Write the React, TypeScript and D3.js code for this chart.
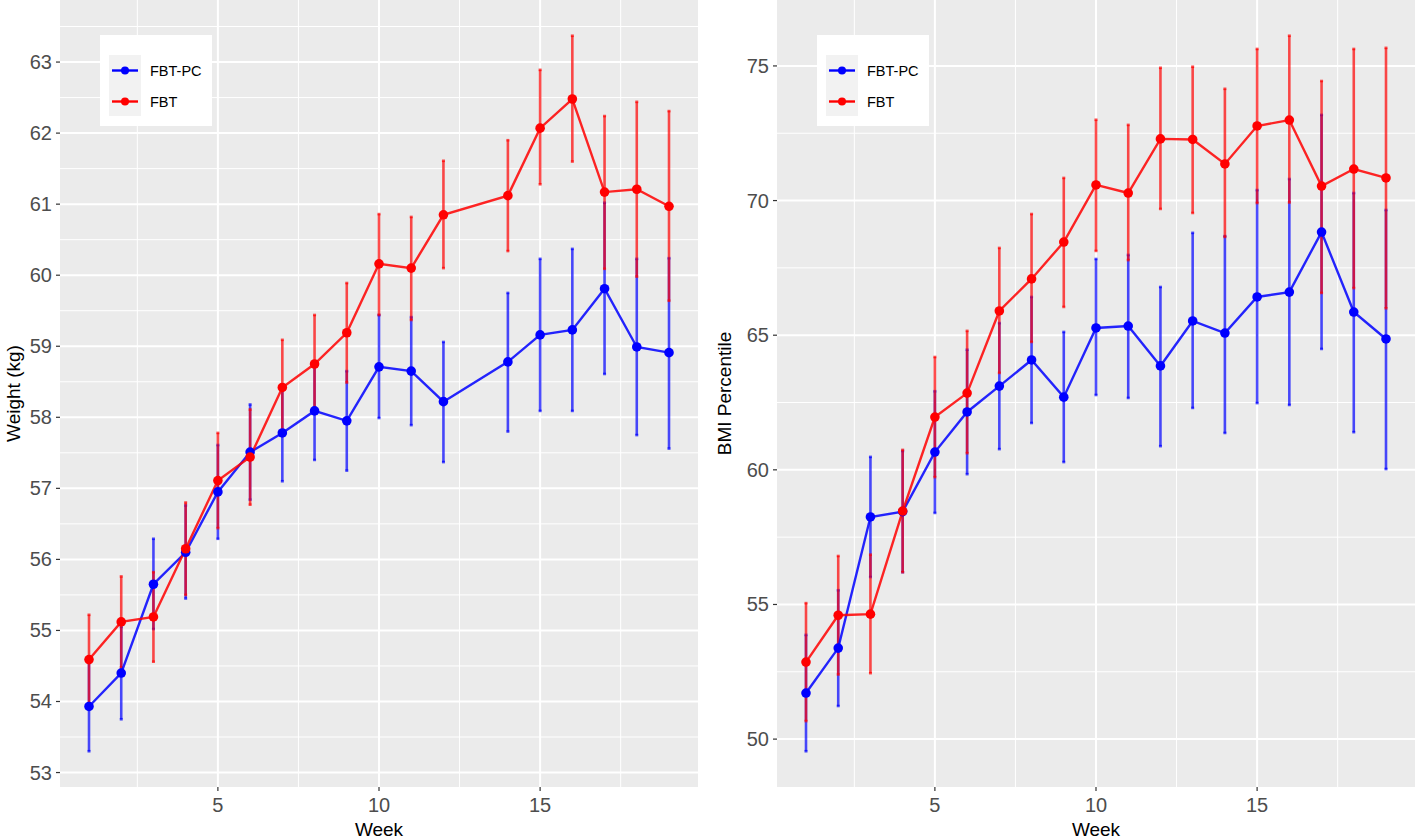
import React from "react";
import * as d3 from "d3";

// ---------- Data: Weight (kg) panel ----------
const weeksWeight = [1, 2, 3, 4, 5, 6, 7, 8, 9, 10, 11, 12, 14, 15, 16, 17, 18, 19];
const weightPcMean = [53.93, 54.40, 55.65, 56.10, 56.95, 57.51, 57.78, 58.09, 57.95, 58.71, 58.65, 58.22, 58.78, 59.16, 59.23, 59.81, 58.99, 58.91];
const weightPcLow = [53.30, 53.75, 55.02, 55.45, 56.29, 56.84, 57.10, 57.40, 57.25, 57.99, 57.89, 57.37, 57.80, 58.09, 58.09, 58.61, 57.75, 57.56];
const weightPcHigh = [54.56, 55.05, 56.29, 56.76, 57.61, 58.18, 58.46, 58.78, 58.65, 59.44, 59.41, 59.06, 59.75, 60.23, 60.37, 61.02, 60.23, 60.24];
const weightFbtMean = [54.59, 55.12, 55.19, 56.15, 57.11, 57.44, 58.42, 58.75, 59.19, 60.16, 60.10, 60.85, 61.12, 62.07, 62.48, 61.17, 61.21, 60.97];
const weightFbtLow = [53.96, 54.48, 54.56, 55.50, 56.44, 56.77, 57.75, 58.06, 58.49, 59.44, 59.37, 60.10, 60.34, 61.28, 61.60, 60.09, 59.98, 59.64];
const weightFbtHigh = [55.22, 55.76, 55.82, 56.80, 57.78, 58.11, 59.09, 59.44, 59.89, 60.86, 60.82, 61.61, 61.90, 62.89, 63.37, 62.24, 62.44, 62.31];

// ---------- Data: BMI Percentile panel ----------
const weeksBmi = [1, 2, 3, 4, 5, 6, 7, 8, 9, 10, 11, 12, 13, 14, 15, 16, 17, 18, 19];
const bmiPcMean = [51.71, 53.38, 58.25, 58.45, 60.66, 62.15, 63.11, 64.08, 62.70, 65.27, 65.34, 63.86, 65.53, 65.08, 66.42, 66.60, 68.83, 65.86, 64.86];
const bmiPcLow = [49.55, 51.23, 56.02, 56.20, 58.40, 59.84, 60.77, 61.74, 60.29, 62.78, 62.67, 60.88, 62.30, 61.37, 62.48, 62.41, 64.49, 61.40, 60.03];
const bmiPcHigh = [53.87, 55.53, 60.48, 60.70, 62.92, 64.46, 65.45, 66.42, 65.12, 67.83, 67.98, 66.79, 68.80, 68.68, 70.39, 70.80, 73.18, 70.28, 69.65];
const bmiFbtMean = [52.86, 54.60, 54.64, 58.47, 61.96, 62.85, 65.90, 67.09, 68.46, 70.58, 70.28, 72.29, 72.27, 71.36, 72.77, 72.99, 70.54, 71.17, 70.84];
const bmiFbtLow = [50.67, 52.40, 52.45, 56.20, 59.73, 60.62, 63.60, 64.75, 66.05, 68.13, 67.79, 69.69, 69.54, 68.65, 69.91, 69.93, 66.57, 66.75, 66.00];
const bmiFbtHigh = [55.05, 56.80, 56.85, 60.74, 64.19, 65.16, 68.24, 69.50, 70.84, 73.00, 72.81, 74.93, 74.97, 74.15, 75.63, 76.12, 74.44, 75.63, 75.67];

// ---------- Tick labels ----------
const weekTicks = [5, 10, 15];
const weekMinor = [2.5, 7.5, 12.5, 17.5];
const weightTicks = [53, 54, 55, 56, 57, 58, 59, 60, 61, 62, 63];
const bmiTicks = [50, 55, 60, 65, 70, 75];
const seriesNames = ["FBT-PC", "FBT"];
const seriesColors = ["#0000FF", "#FF0000"];

const W = 1418;
const H = 839;
const FONT = "'Liberation Sans', Arial, Helvetica, sans-serif";

type Series = { weeks: number[]; mean: number[]; low: number[]; high: number[]; color: string };

function Panel(props: {
  left: number;
  right: number;
  top: number;
  bottom: number;
  series: Series[];
  yTicks: number[];
  yTitle: string;
  yTitleX: number;
}) {
  const { left, right, top, bottom, series, yTicks, yTitle, yTitleX } = props;
  const allWeeks = series.flatMap((s) => s.weeks);
  const wMin = d3.min(allWeeks)!;
  const wMax = d3.max(allWeeks)!;
  const wPad = (wMax - wMin) * 0.05;
  const x = d3.scaleLinear().domain([wMin - wPad, wMax + wPad]).range([left, right]);

  const lo = d3.min(series.flatMap((s) => s.low))!;
  const hi = d3.max(series.flatMap((s) => s.high))!;
  const yPad = (hi - lo) * 0.05;
  const y = d3.scaleLinear().domain([lo - yPad, hi + yPad]).range([bottom, top]);
  const [d0, d1] = y.domain();
  const step = yTicks[1] - yTicks[0];
  const yMinor: number[] = [];
  for (let v = yTicks[0] - step / 2; v <= d1; v += step) {
    if (v >= d0) yMinor.push(v);
  }
  const xMinorIn = weekMinor.filter((v) => v >= x.domain()[0] && v <= x.domain()[1]);

  const line = d3
    .line<[number, number]>()
    .x((d) => x(d[0]))
    .y((d) => y(d[1]));

  const legendX = left + 40;
  const legendY = 35;

  return (
    <g>
      <rect x={left} y={top} width={right - left} height={bottom - top} fill="#EBEBEB" />
      {yMinor.map((v) => (
        <line key={"ym" + v} x1={left} x2={right} y1={y(v)} y2={y(v)} stroke="#FFFFFF" strokeWidth={1} />
      ))}
      {xMinorIn.map((v) => (
        <line key={"xm" + v} x1={x(v)} x2={x(v)} y1={top} y2={bottom} stroke="#FFFFFF" strokeWidth={1} />
      ))}
      {yTicks.map((v) => (
        <line key={"yM" + v} x1={left} x2={right} y1={y(v)} y2={y(v)} stroke="#FFFFFF" strokeWidth={2} />
      ))}
      {weekTicks.map((v) => (
        <line key={"xM" + v} x1={x(v)} x2={x(v)} y1={top} y2={bottom} stroke="#FFFFFF" strokeWidth={2} />
      ))}

      {/* error bars */}
      {series.map((s, si) => (
        <g key={"eb" + si} stroke={s.color} strokeOpacity={0.7} strokeWidth={2.6}>
          {s.weeks.map((wk, i) => (
            <g key={i}>
              <line x1={x(wk)} x2={x(wk)} y1={y(s.low[i])} y2={y(s.high[i])} />
              <line x1={x(wk) - 1.5} x2={x(wk) + 1.5} y1={y(s.low[i])} y2={y(s.low[i])} />
              <line x1={x(wk) - 1.5} x2={x(wk) + 1.5} y1={y(s.high[i])} y2={y(s.high[i])} />
            </g>
          ))}
        </g>
      ))}
      {/* lines */}
      {series.map((s, si) => (
        <path
          key={"ln" + si}
          d={line(s.weeks.map((wk, i) => [wk, s.mean[i]] as [number, number])) || ""}
          fill="none"
          stroke={s.color}
          strokeOpacity={0.85}
          strokeWidth={2.4}
        />
      ))}
      {/* points */}
      {series.map((s, si) => (
        <g key={"pt" + si} fill={s.color}>
          {s.weeks.map((wk, i) => (
            <circle key={i} cx={x(wk)} cy={y(s.mean[i])} r={4.8} />
          ))}
        </g>
      ))}

      {/* y axis */}
      {yTicks.map((v) => (
        <g key={"yt" + v}>
          <line x1={left - 4} x2={left} y1={y(v)} y2={y(v)} stroke="#333333" strokeWidth={1.2} />
          <text
            x={left - 8}
            y={y(v)}
            dy="0.35em"
            textAnchor="end"
            fontSize={20}
            fill="#4D4D4D"
            fontFamily={FONT}
          >
            {v}
          </text>
        </g>
      ))}
      {/* x axis */}
      {weekTicks.map((v) => (
        <g key={"xt" + v}>
          <line x1={x(v)} x2={x(v)} y1={bottom} y2={bottom + 4} stroke="#333333" strokeWidth={1.2} />
          <text x={x(v)} y={bottom + 25} textAnchor="middle" fontSize={20} fill="#4D4D4D" fontFamily={FONT}>
            {v}
          </text>
        </g>
      ))}
      <text
        x={(left + right) / 2}
        y={836}
        textAnchor="middle"
        fontSize={19}
        fill="#000000"
        fontFamily={FONT}
      >
        Week
      </text>
      <text
        transform={`translate(${yTitleX},${(top + bottom) / 2}) rotate(-90)`}
        textAnchor="middle"
        fontSize={19}
        fill="#000000"
        fontFamily={FONT}
      >
        {yTitle}
      </text>

      {/* legend */}
      <rect x={legendX} y={legendY} width={112} height={91} fill="#FFFFFF" />
      <rect x={legendX + 9} y={legendY + 20} width={32} height={61} fill="#F2F2F2" />
      {series.map((s, si) => {
        const ky = legendY + 35.5 + si * 31;
        return (
          <g key={"lg" + si}>
            <line x1={legendX + 12} x2={legendX + 38} y1={ky} y2={ky} stroke={s.color} strokeWidth={2.4} />
            <circle cx={legendX + 25} cy={ky} r={4} fill={s.color} />
            <text x={legendX + 50} y={ky + 5} fontSize={14.5} fill="#000000" fontFamily={FONT}>
              {seriesNames[si]}
            </text>
          </g>
        );
      })}
    </g>
  );
}

export default function App() {
  const weightSeries: Series[] = [
    { weeks: weeksWeight, mean: weightPcMean, low: weightPcLow, high: weightPcHigh, color: seriesColors[0] },
    { weeks: weeksWeight, mean: weightFbtMean, low: weightFbtLow, high: weightFbtHigh, color: seriesColors[1] },
  ];
  const bmiSeries: Series[] = [
    { weeks: weeksBmi, mean: bmiPcMean, low: bmiPcLow, high: bmiPcHigh, color: seriesColors[0] },
    { weeks: weeksBmi, mean: bmiFbtMean, low: bmiFbtLow, high: bmiFbtHigh, color: seriesColors[1] },
  ];
  return (
    <svg
      width={W}
      height={H}
      style={{ position: "absolute", left: 0, top: 0, background: "#FFFFFF" }}
    >
      <rect x={0} y={0} width={W} height={H} fill="#FFFFFF" />
      <Panel
        left={60}
        right={698}
        top={0}
        bottom={787}
        series={weightSeries}
        yTicks={weightTicks}
        yTitle="Weight (kg)"
        yTitleX={20}
      />
      <Panel
        left={777}
        right={1415}
        top={0}
        bottom={787}
        series={bmiSeries}
        yTicks={bmiTicks}
        yTitle="BMI Percentile"
        yTitleX={731}
      />
    </svg>
  );
}
